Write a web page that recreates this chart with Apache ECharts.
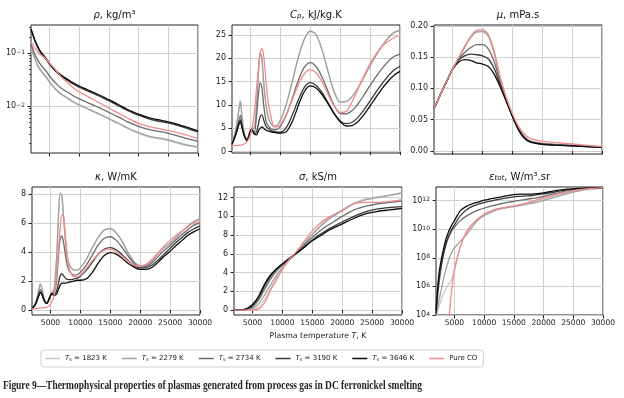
<!DOCTYPE html>
<html>
<head>
<meta charset="utf-8">
<script src="https://cdn.jsdelivr.net/npm/echarts@6/dist/echarts.min.js"></script>
<style>
html, body { margin: 0; padding: 0; background: #fff; }
#main { width: 624px; height: 398px; }
</style>
</head>
<body>
<div id="main"></div>
<script>
// temperatures (K) - fine grid for the peaky panels, coarse for the smooth ones
var tFine = [1900, 2500, 3000, 3300, 3600, 4000, 4400, 4800, 5200, 5600,
  6000, 6300, 6600, 6900, 7200, 7600, 8000, 8500, 9000, 9500,
  10000, 11000, 12000, 13000, 14000, 15000, 16000, 17000, 18000, 19000,
  20000, 21000, 22000, 23000, 24000, 25000, 26000, 27000, 28000, 29000, 30000];
var tCoarse = [1900, 2200, 2500, 3000, 3500, 4000, 4500, 5000, 6000, 7000,
  8000, 9000, 10000, 11000, 12000, 13000, 14000, 15000, 16000, 17000,
  18000, 20000, 22000, 24000, 26000, 28000, 30000];

var seriesNames = ['Ts = 1823 K', 'Ts = 2279 K', 'Ts = 2734 K', 'Ts = 3190 K', 'Ts = 3646 K', 'Pure CO'];
var lineColors = ['#c8c8c8', '#a0a0a0', '#6c6c6c', '#383838', '#0c0c0c', '#f28b8b'];

// density, kg/m3
var rho1823 = [0.121, 0.099, 0.079, 0.058, 0.0466, 0.0398, 0.034, 0.0281, 0.0208, 0.0165, 0.0141, 0.0119, 0.0104, 0.0093, 0.0082, 0.0073, 0.0065, 0.0057, 0.005, 0.0045, 0.0039, 0.0031, 0.0026, 0.0024, 0.0021, 0.00184, 0.00167];
var rho2279 = [0.125, 0.102, 0.081, 0.06, 0.048, 0.041, 0.035, 0.029, 0.0214, 0.017, 0.0145, 0.0123, 0.0107, 0.0096, 0.0085, 0.0075, 0.0067, 0.0059, 0.0052, 0.0046, 0.004, 0.0032, 0.0027, 0.0025, 0.0022, 0.0019, 0.00172];
var rho2734 = [0.148, 0.12, 0.097, 0.075, 0.061, 0.052, 0.045, 0.037, 0.0275, 0.0218, 0.0186, 0.0158, 0.0138, 0.0123, 0.011, 0.0098, 0.0087, 0.0077, 0.0068, 0.006, 0.0052, 0.0042, 0.0036, 0.0033, 0.0029, 0.0025, 0.0022];
var rho3190 = [0.27, 0.218, 0.173, 0.128, 0.102, 0.087, 0.074, 0.0615, 0.0456, 0.0362, 0.0309, 0.0262, 0.0229, 0.0204, 0.0182, 0.0162, 0.0144, 0.0127, 0.0111, 0.0097, 0.0085, 0.0068, 0.0057, 0.0051, 0.0046, 0.0039, 0.0033];
var rho3646 = [0.282, 0.229, 0.182, 0.135, 0.107, 0.0912, 0.0776, 0.0646, 0.0479, 0.038, 0.0324, 0.0275, 0.024, 0.0214, 0.0191, 0.017, 0.0151, 0.0133, 0.0117, 0.0102, 0.0089, 0.0071, 0.006, 0.0054, 0.0048, 0.0041, 0.00347];
var rhoCO = [0.166, 0.144, 0.126, 0.107, 0.093, 0.085, 0.076, 0.0646, 0.049, 0.0354, 0.0282, 0.0223, 0.0187, 0.0163, 0.0141, 0.0123, 0.0107, 0.0093, 0.0081, 0.007, 0.0061, 0.0048, 0.0041, 0.0037, 0.0033, 0.0029, 0.00246];

// heat capacity, kJ/kg.K
var cp1823 = [1.6, 4.6, 8.7, 11.0, 7.2, 3.7, 2.6, 3.9, 5.0, 5.1, 10.4, 16.8, 21.0, 19.6, 14.6, 9.8, 7.1, 5.8, 5.5, 5.8, 6.8, 10.3, 15.2, 20.3, 24.2, 25.9, 25.1, 21.7, 17.1, 12.9, 10.7, 10.8, 11.9, 13.8, 16.1, 18.5, 20.7, 22.7, 24.4, 25.6, 26.1];
var cp2279 = [1.6, 4.5, 8.5, 10.7, 7.0, 3.6, 2.6, 3.9, 5.0, 5.0, 10.0, 16.5, 21.2, 20.0, 15.0, 10.0, 7.2, 5.8, 5.4, 5.7, 6.7, 10.2, 15.1, 20.2, 24.1, 25.8, 25.0, 21.6, 17.0, 12.8, 10.6, 10.7, 11.8, 13.7, 16.0, 18.4, 20.6, 22.6, 24.3, 25.5, 26.0];
var cp2734 = [1.6, 3.8, 6.5, 7.8, 5.6, 3.4, 2.5, 3.8, 4.9, 4.0, 7.5, 12.0, 14.8, 13.8, 10.0, 6.5, 5.5, 4.9, 4.7, 4.8, 5.4, 7.9, 11.5, 15.3, 18.1, 19.1, 18.2, 15.9, 12.8, 9.9, 8.2, 8.1, 8.8, 10.3, 12.2, 14.2, 16.1, 17.8, 19.3, 20.4, 20.9];
var cp3190 = [1.6, 3.6, 5.9, 6.8, 5.2, 3.3, 2.4, 3.7, 4.9, 3.9, 4.2, 5.8, 7.5, 7.9, 6.8, 5.4, 4.9, 4.5, 4.3, 4.2, 4.2, 5.2, 7.9, 11.1, 13.8, 14.8, 14.2, 12.6, 10.4, 8.2, 6.6, 6.0, 6.3, 7.4, 9.0, 10.9, 12.8, 14.6, 16.2, 17.5, 18.3];
var cp3646 = [1.6, 3.5, 5.6, 6.4, 5.0, 3.2, 2.4, 3.6, 4.9, 3.8, 3.6, 4.4, 5.0, 5.3, 5.0, 4.6, 4.4, 4.2, 4.1, 4.0, 4.0, 4.3, 6.5, 9.9, 12.9, 14.1, 13.6, 12.2, 10.2, 8.1, 6.4, 5.5, 5.6, 6.5, 8.0, 9.8, 11.7, 13.5, 15.1, 16.4, 17.2];
var cpCO = [1.3, 1.3, 1.35, 1.4, 1.5, 1.7, 2.1, 3.0, 4.6, 8.0, 13.5, 17.5, 21.0, 22.1, 20.5, 15.0, 10.2, 7.0, 5.3, 5.3, 5.8, 8.0, 11.2, 14.4, 16.7, 17.6, 16.85, 14.9, 12.2, 9.8, 8.4, 8.6, 10.7, 13.5, 16.3, 18.9, 20.9, 22.6, 23.6, 24.4, 25.0];

// viscosity, mPa.s
var mu1823 = [0.068, 0.074, 0.080, 0.091, 0.101, 0.111, 0.121, 0.131, 0.148, 0.166, 0.182, 0.191, 0.192, 0.184, 0.156, 0.115, 0.083, 0.058, 0.037, 0.023, 0.016, 0.0122, 0.0107, 0.0097, 0.0087, 0.0075, 0.0064];
var mu2279 = [0.068, 0.074, 0.080, 0.091, 0.101, 0.111, 0.121, 0.131, 0.148, 0.165, 0.181, 0.19, 0.191, 0.183, 0.155, 0.114, 0.083, 0.058, 0.037, 0.023, 0.016, 0.012, 0.0105, 0.0095, 0.0085, 0.0074, 0.0063];
var mu2734 = [0.068, 0.074, 0.080, 0.091, 0.101, 0.111, 0.121, 0.131, 0.146, 0.157, 0.165, 0.17, 0.17, 0.163, 0.142, 0.109, 0.081, 0.057, 0.036, 0.022, 0.015, 0.0115, 0.01, 0.009, 0.008, 0.007, 0.006];
var mu3190 = [0.068, 0.074, 0.080, 0.091, 0.101, 0.111, 0.121, 0.131, 0.145, 0.152, 0.155, 0.154, 0.152, 0.147, 0.131, 0.105, 0.08, 0.056, 0.035, 0.021, 0.0145, 0.011, 0.0096, 0.0086, 0.0077, 0.0067, 0.0057];
var mu3646 = [0.068, 0.074, 0.080, 0.091, 0.101, 0.111, 0.121, 0.131, 0.142, 0.146, 0.145, 0.141, 0.139, 0.135, 0.122, 0.102, 0.079, 0.055, 0.034, 0.02, 0.014, 0.0105, 0.0092, 0.0083, 0.0075, 0.0065, 0.0055];
var muCO = [0.068, 0.074, 0.080, 0.091, 0.101, 0.111, 0.121, 0.131, 0.149, 0.167, 0.183, 0.193, 0.194, 0.186, 0.158, 0.117, 0.085, 0.06, 0.04, 0.027, 0.02, 0.0155, 0.0135, 0.0118, 0.0102, 0.0085, 0.007];

// thermal conductivity, W/mK
var k1823 = [0.1, 0.5, 1.35, 1.8, 1.45, 0.7, 0.5, 0.85, 1.2, 1.45, 3.6, 6.3, 8.1, 7.8, 6.2, 4.2, 3.25, 2.85, 2.75, 2.78, 2.92, 3.5, 4.3, 5.05, 5.55, 5.65, 5.35, 4.75, 3.95, 3.35, 3.08, 3.12, 3.42, 3.92, 4.3, 4.62, 5.02, 5.42, 5.82, 6.12, 6.32];
var k2279 = [0.1, 0.5, 1.3, 1.78, 1.4, 0.7, 0.5, 0.85, 1.2, 1.4, 3.5, 6.2, 8.0, 7.9, 6.3, 4.3, 3.3, 2.9, 2.75, 2.75, 2.9, 3.5, 4.3, 5.0, 5.5, 5.6, 5.3, 4.7, 3.9, 3.3, 3.05, 3.1, 3.4, 3.9, 4.3, 4.6, 5.0, 5.4, 5.8, 6.1, 6.3];
var k2734 = [0.1, 0.45, 1.1, 1.4, 1.15, 0.6, 0.45, 0.8, 1.15, 1.2, 2.0, 3.6, 4.9, 5.1, 4.6, 3.5, 2.8, 2.5, 2.4, 2.45, 2.6, 3.1, 3.8, 4.5, 4.95, 5.05, 4.8, 4.3, 3.7, 3.2, 2.95, 3.0, 3.25, 3.7, 4.1, 4.45, 4.85, 5.2, 5.55, 5.85, 6.0];
var k3190 = [0.1, 0.4, 0.95, 1.25, 1.05, 0.6, 0.45, 0.8, 1.15, 1.05, 1.3, 1.8, 2.35, 2.5, 2.35, 2.15, 2.1, 2.1, 2.15, 2.2, 2.35, 2.75, 3.3, 3.85, 4.2, 4.3, 4.15, 3.8, 3.4, 3.05, 2.9, 2.92, 3.1, 3.45, 3.85, 4.25, 4.65, 5.0, 5.35, 5.6, 5.8];
var k3646 = [0.1, 0.4, 0.95, 1.2, 1.0, 0.6, 0.45, 0.8, 1.1, 1.0, 1.1, 1.4, 1.7, 1.85, 1.85, 1.85, 1.9, 1.95, 2.0, 2.05, 2.05, 2.15, 2.6, 3.25, 3.75, 3.95, 3.85, 3.55, 3.2, 2.95, 2.8, 2.8, 2.95, 3.3, 3.7, 4.05, 4.45, 4.8, 5.15, 5.4, 5.6];
var kCO = [0.08, 0.1, 0.12, 0.13, 0.14, 0.16, 0.2, 0.3, 0.55, 1.0, 2.4, 4.0, 5.6, 6.55, 6.4, 4.6, 3.1, 2.45, 2.3, 2.3, 2.4, 2.85, 3.4, 3.85, 4.15, 4.2, 4.0, 3.7, 3.35, 3.1, 3.0, 3.15, 3.5, 3.95, 4.4, 4.8, 5.15, 5.45, 5.75, 6.0, 6.15];

// electrical conductivity, kS/m
var sig1823 = [0, 0, 0, 0, 0, 0.01, 0.02, 0.05, 0.3, 1.1, 2.3, 3.45, 4.4, 5.2, 5.85, 6.65, 7.45, 8.15, 8.8, 9.4, 9.9, 10.7, 11.45, 11.9, 12.1, 12.3, 12.55];
var sig2279 = [0, 0, 0, 0, 0.01, 0.03, 0.08, 0.18, 0.65, 1.6, 2.7, 3.7, 4.55, 5.25, 5.9, 6.6, 7.35, 8.05, 8.7, 9.3, 9.8, 10.6, 11.35, 11.8, 12.0, 12.25, 12.5];
var sig2734 = [0, 0, 0, 0.01, 0.02, 0.06, 0.17, 0.35, 1.05, 2.2, 3.3, 4.15, 4.8, 5.35, 5.9, 6.5, 7.15, 7.75, 8.3, 8.8, 9.2, 10.0, 10.7, 11.1, 11.35, 11.5, 11.65];
var sig3190 = [0, 0, 0, 0.01, 0.03, 0.1, 0.25, 0.48, 1.3, 2.55, 3.6, 4.35, 4.9, 5.4, 5.9, 6.4, 6.95, 7.45, 7.95, 8.35, 8.75, 9.4, 10.0, 10.5, 10.8, 10.95, 11.05];
var sig3646 = [0, 0, 0.01, 0.02, 0.05, 0.15, 0.35, 0.6, 1.45, 2.75, 3.75, 4.4, 4.95, 5.45, 5.9, 6.35, 6.9, 7.4, 7.8, 8.2, 8.6, 9.2, 9.8, 10.3, 10.55, 10.7, 10.85];
var sigCO = [0, 0, 0, 0, 0, 0, 0.01, 0.02, 0.1, 0.75, 2.1, 3.2, 4.35, 5.3, 6.0, 6.8, 7.65, 8.45, 9.1, 9.6, 10.0, 10.65, 11.35, 11.5, 11.5, 11.6, 11.8];

// total emission coefficient, W/m3.sr
var eps1823 = [5.0e3, 2.0e4, 5.0e4, 2.24e5, 6.3e5, 1.41e6, 2.8e6, 1.26e7, 5.6e8, 6.0e9, 2.14e10, 5.4e10, 1.07e11, 1.7e11, 2.4e11, 3.0e11, 3.55e11, 4.0e11, 4.8e11, 6.0e11, 7.9e11, 1.32e12, 2.24e12, 3.8e12, 5.5e12, 6.9e12, 7.9e12];
var eps2279 = [7.9e3, 4.0e4, 1.58e5, 1.58e6, 1.26e7, 6.3e7, 2.24e8, 5.0e8, 1.41e9, 4.0e9, 1.41e10, 4.5e10, 8.9e10, 1.41e11, 2.14e11, 2.82e11, 3.3e11, 3.8e11, 4.5e11, 5.4e11, 6.6e11, 1.0e12, 1.78e12, 3.16e12, 4.8e12, 6.3e12, 7.6e12];
var eps2734 = [1.0e4, 2.5e5, 3.2e6, 8.0e7, 6.3e8, 2.5e9, 7.1e9, 1.41e10, 4.0e10, 8.3e10, 1.41e11, 2.14e11, 3.0e11, 4.0e11, 5.0e11, 6.3e11, 7.6e11, 8.9e11, 1.05e12, 1.2e12, 1.41e12, 2.0e12, 3.16e12, 4.8e12, 6.3e12, 7.4e12, 7.9e12];
var eps3190 = [1.26e4, 5.0e5, 6.3e6, 1.0e8, 7.9e8, 3.2e9, 8.9e9, 2.0e10, 8.9e10, 2.24e11, 4.0e11, 5.6e11, 7.4e11, 9.1e11, 1.12e12, 1.35e12, 1.58e12, 1.86e12, 2.0e12, 2.14e12, 2.29e12, 2.95e12, 4.17e12, 5.6e12, 6.8e12, 7.6e12, 8.1e12];
var eps3646 = [2.0e4, 1.0e6, 1.6e7, 2.0e8, 1.6e9, 6.3e9, 1.8e10, 4.0e10, 2.0e11, 4.0e11, 6.0e11, 7.9e11, 1.07e12, 1.32e12, 1.58e12, 1.86e12, 2.24e12, 2.63e12, 2.82e12, 2.82e12, 2.88e12, 3.55e12, 5.0e12, 6.3e12, 7.2e12, 7.9e12, 8.3e12];
var epsCO = [null, null, null, null, null, 2.0e3, 4.0e5, 1.58e7, 6.3e8, 6.3e9, 2.24e10, 5.6e10, 1.12e11, 1.78e11, 2.5e11, 3.16e11, 3.7e11, 4.3e11, 5.2e11, 6.8e11, 8.9e11, 1.58e12, 2.63e12, 4.2e12, 5.8e12, 7.1e12, 8.1e12];

// tick values
var xTicks = [5000, 10000, 15000, 20000, 25000, 30000];
var rhoTicks = [0.01, 0.1];
var rhoMinorTicks = [0.002, 0.003, 0.004, 0.005, 0.006, 0.007, 0.008, 0.009, 0.02, 0.03, 0.04, 0.05, 0.06, 0.07, 0.08, 0.09, 0.2, 0.3];
var cpTicks = [0, 5, 10, 15, 20, 25];
var muTicks = [0, 0.05, 0.1, 0.15, 0.2];
var kTicks = [0, 2, 4, 6, 8];
var sigTicks = [0, 2, 4, 6, 8, 10, 12];
var epsTicks = [1e4, 1e6, 1e8, 1e10, 1e12];

var FONT = 'DejaVu Sans';
var caption = 'Figure 9\u2014Thermophysical properties of plasmas generated from process gas in DC ferronickel smelting';

function powerLabel(v) {
  var e = Math.round(Math.log10(v));
  return '10{e|' + (e < 0 ? '\u2212' + (-e) : e) + '}';
}

var panels = [
  { title: '{i|\u03c1}, kg/m\u00b3', t: tCoarse, lines: [rho1823, rho2279, rho2734, rho3190, rho3646, rhoCO],
    type: 'log', min: 0.00133, max: 0.335, ticks: rhoTicks, minor: rhoMinorTicks, fmt: powerLabel,
    box: [31, 25, 167, 128], showX: false },
  { title: '{i|C}{sb|p}, kJ/kg.K', t: tFine, lines: [cp1823, cp2279, cp2734, cp3190, cp3646, cpCO],
    type: 'value', min: -0.28, max: 27.14, ticks: cpTicks,
    box: [232, 25, 168, 128], showX: false },
  { title: '{i|\u03bc}, mPa.s', t: tCoarse, lines: [mu1823, mu2279, mu2734, mu3190, mu3646, muCO],
    type: 'value', min: -0.005, max: 0.2015, ticks: muTicks, fmt: function (v) { return v.toFixed(2); },
    box: [434, 25, 168, 129], showX: false },
  { title: '{i|\u03ba}, W/mK', t: tFine, lines: [k1823, k2279, k2734, k3190, k3646, kCO],
    type: 'value', min: -0.345, max: 8.48, ticks: kTicks,
    box: [32, 187, 168, 128], showX: true },
  { title: '{i|\u03c3}, kS/m', t: tCoarse, lines: [sig1823, sig2279, sig2734, sig3190, sig3646, sigCO],
    type: 'value', min: -0.53, max: 13.14, ticks: sigTicks,
    box: [234, 187, 168, 128], showX: true, xName: 'Plasma temperature {i|T}, K' },
  { title: '{i|\u03b5}{sb|tot}, W/m\u00b3.sr', t: tCoarse, lines: [eps1823, eps2279, eps2734, eps3190, eps3646, epsCO],
    type: 'log', min: 1e4, max: 9e12, ticks: epsTicks, fmt: powerLabel,
    box: [436, 187, 167, 128], showX: true }
];

var grids = [], xAxes = [], yAxes = [], series = [], graphics = [];
var titleRich = {
  i: { fontFamily: FONT, fontSize: 10, fontStyle: 'italic', color: '#111' },
  sb: { fontFamily: FONT, fontSize: 7, fontStyle: 'italic', color: '#111', verticalAlign: 'bottom', lineHeight: 7 }
};

panels.forEach(function (p, k) {
  var b = p.box;
  grids.push({ left: b[0], top: b[1], width: b[2], height: b[3], show: true,
    borderColor: '#222', borderWidth: 1, backgroundColor: 'transparent',
    containLabel: false, outerBoundsMode: 'none' });

  xAxes.push({
    type: 'value', gridIndex: k, min: 1900, max: 30000,
    axisLine: { show: false },
    axisTick: { show: true, customValues: xTicks, length: 3.5, lineStyle: { color: '#222', width: 1 } },
    axisLabel: { show: p.showX, customValues: xTicks, margin: 4, fontSize: 7.6, fontFamily: FONT, color: '#222',
      formatter: function (v) { return String(v); } },
    splitLine: { show: true, lineStyle: { color: '#cfcfcf', width: 1 } },
    name: p.xName || '', nameLocation: 'middle', nameGap: 17,
    nameTextStyle: { fontSize: 7.8, fontFamily: FONT, color: '#222',
      rich: { i: { fontSize: 7.8, fontFamily: FONT, fontStyle: 'italic', color: '#222' } } }
  });

  yAxes.push({
    type: p.type, gridIndex: k, min: p.min, max: p.max, logBase: 10,
    axisLine: { show: false },
    axisTick: { show: true, customValues: p.ticks, length: 3.5, lineStyle: { color: '#222', width: 1 } },
    axisLabel: { customValues: p.ticks, margin: 6, fontSize: 8, fontFamily: FONT, color: '#222',
      formatter: p.fmt || function (v) { return String(v); },
      rich: { e: { fontSize: 6, fontFamily: FONT, color: '#222', verticalAlign: 'top', lineHeight: 6 } } },
    splitLine: { show: true, lineStyle: { color: '#cfcfcf', width: 1 } }
  });
  var yIndex = yAxes.length - 1;
  if (p.minor) {
    yAxes.push({
      type: p.type, gridIndex: k, min: p.min, max: p.max, position: 'left',
      axisLine: { show: false },
      axisTick: { show: true, customValues: p.minor, length: 2, lineStyle: { color: '#222', width: 0.8 } },
      axisLabel: { show: false }, splitLine: { show: false }
    });
  }

  p.lines.forEach(function (vals, j) {
    series.push({
      name: seriesNames[j], type: 'line', xAxisIndex: k, yAxisIndex: yIndex,
      data: p.t.map(function (t, i) { return [t, vals[i]]; }),
      showSymbol: false, symbol: 'none', smooth: 0.3, clip: true,
      lineStyle: { color: lineColors[j], width: 1.3 },
      itemStyle: { color: lineColors[j] },
      emphasis: { disabled: true }, z: 2 + j
    });
  });

  graphics.push({
    type: 'text', x: b[0] + b[2] / 2, y: b[1] - 10,
    style: { text: p.title, align: 'center', verticalAlign: 'middle',
      fontFamily: FONT, fontSize: 10, fill: '#111', rich: titleRich }
  });
});

graphics.push({
  type: 'text', id: 'caption', x: 3, y: 386,
  style: { text: caption, verticalAlign: 'middle', fontFamily: 'Liberation Serif',
    fontWeight: 'bold', fontSize: 12.5, fill: '#231f20' }
});

// squeeze the caption to the width it has in the figure
var ctx = document.createElement('canvas').getContext('2d');
ctx.font = 'bold 12.5px "Liberation Serif"';
graphics[graphics.length - 1].scaleX = 419 / ctx.measureText(caption).width;

var chartDom = document.getElementById('main');
var myChart = echarts.init(chartDom);
var option = {
  animation: false,
  backgroundColor: '#fff',
  grid: grids,
  xAxis: xAxes,
  yAxis: yAxes,
  legend: {
    data: seriesNames, left: 41, top: 350, icon: 'rect', itemWidth: 15, itemHeight: 1.5, itemGap: 15,
    padding: [5, 6, 5, 4], borderColor: '#d0d0d0', borderWidth: 1, borderRadius: 3,
    selectedMode: false,
    formatter: function (name) {
      return name.indexOf('Ts') === 0 ? '{i|T}{s|s}' + name.slice(2) : name;
    },
    textStyle: { fontSize: 7, fontFamily: FONT, color: '#222',
      rich: {
        i: { fontSize: 7, fontFamily: FONT, fontStyle: 'italic', color: '#222' },
        s: { fontSize: 5, fontFamily: FONT, color: '#222', verticalAlign: 'bottom', lineHeight: 5 }
      } }
  },
  graphic: graphics,
  series: series
};
myChart.setOption(option);
</script>
</body>
</html>
